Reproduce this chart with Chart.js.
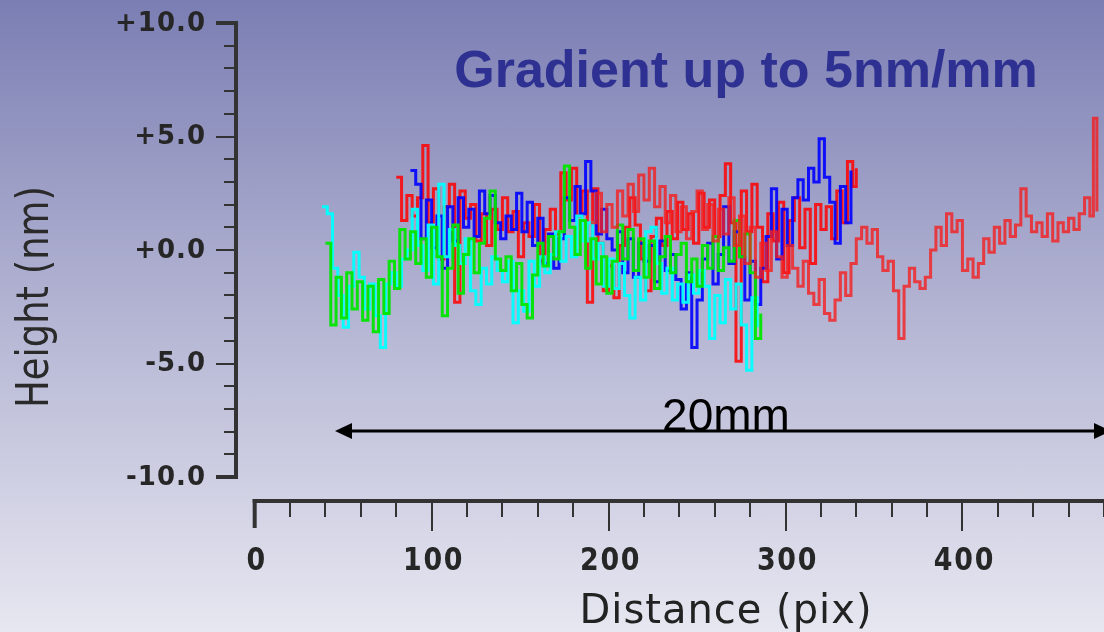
<!DOCTYPE html>
<html>
<head>
<meta charset="utf-8">
<script src="https://cdn.jsdelivr.net/npm/chart.js@4/dist/chart.umd.min.js"></script>
<style>
html,body{margin:0;padding:0;overflow:hidden;}
body{width:1104px;height:632px;background:linear-gradient(to bottom,#7b7eb3 0%,#b2b3d2 48%,#e7e7f1 100%);}
canvas{display:block;}
</style>
</head>
<body>
<canvas id="c" width="1104" height="632"></canvas>
<script>
// ---- data ----
const titleText = "Gradient up to 5nm/mm";
const xAxisTitle = "Distance (pix)";
const yAxisTitle = "Height (nm)";
const spanLabel = "20mm";
const yTickValues = [10, 5, 0, -5, -10];
const yTickLabels = ["+10.0", "+5.0", "+0.0", "-5.0", "-10.0"];
const xTickValues = [0, 100, 200, 300, 400];
const xTickLabels = ["0", "100", "200", "300", "400"];

const redAX = [80,83,86,89,92,95,98,101,104,107,110,113,116,119,122,125,128,131,134,137,140,143,146,149,152,155,158,161,164,167,170,173,176,179,182,185,188,191,194,197,200,203,206,209,212,215,218,221,224,227,230,233,236,239,242,245,248,251,254,257,260,263,266,269,272,275,278,281,284,287,290,293,296,299,302,305,308,311,314,317,320,323,326,329,332,335,338,340];
const redAY = [3.2,1.3,2.4,1.5,2.3,4.6,1.2,2.7,-0.4,1.9,
2.9,-2.3,2.6,1.4,2.0,0.4,1.6,0.2,1.8,0.9,
2.3,0.8,1.7,-0.3,1.2,0.6,2.0,-0.5,0.9,1.8,
0.7,3.4,2.2,3.6,1.5,2.6,-2.3,2.7,0.3,-1.8,
-0.7,-2.1,0.2,1.0,2.3,1.1,-0.4,-1.8,0.6,1.4,
0.2,1.7,0.5,2.1,0.9,1.6,0.3,2.5,1.0,2.2,
0.6,2.4,3.8,1.2,-4.9,2.6,0.8,2.9,1.0,-1.4,
1.6,0.4,2.1,-1.0,1.3,2.3,0.1,1.8,-0.6,2.0,
0.9,1.9,0.5,2.6,1.2,3.9,2.8,3.6];

const redBX = [190,193,196,199,202,205,208,211,214,217,220,223,226,229,232,235,238,241,244,247,250,253,256,259,262,265,268,271,274,277,280,283,286,289,292,295,298,301,304,307,310,313,316,319,322,325,328,331,334,337,340,343,346,349,352,355,358,361,364,367,370,373,376,379,382,385,388,391,394,397,400,403,406,409,412,415,418,421,424,427,430,433,436,439,442,445,448,451,454,457,460,463,466,469,472,474,476];
const redBY = [1.2,2.5,0.8,2.0,1.0,2.6,1.5,2.9,1.7,3.3,
2.2,3.6,1.9,2.8,1.2,2.4,0.8,1.9,0.5,1.7,
2.6,0.9,2.0,0.4,1.8,0.7,2.3,0.2,1.5,-0.6,
1.0,-1.2,0.3,-0.9,0.8,-0.3,-1.2,0.2,-0.8,-1.6,
-0.5,-1.9,-2.4,-1.3,-2.8,-3.1,-2.2,-1.0,-2.0,-0.6,
0.5,1.0,0.3,0.9,-0.3,-0.9,-0.5,-1.8,-3.9,-1.6,
-0.8,-1.4,-1.7,-1.2,0.0,1.0,0.2,1.6,0.8,1.3,
-0.9,-0.4,-1.2,-0.6,0.5,-0.1,1.0,0.3,1.3,0.6,
1.1,2.7,1.5,0.8,1.2,0.6,1.6,0.4,1.2,0.8,
1.4,0.9,1.6,2.3,1.5,5.8,1.7];

const blueX = [88,91,94,97,100,103,106,109,112,115,118,121,124,127,130,133,136,139,142,145,148,151,154,157,160,163,166,169,172,175,178,181,184,187,190,193,196,199,202,205,208,211,214,217,220,223,226,229,232,235,238,241,244,247,250,253,256,259,262,265,268,271,274,277,280,283,286,289,292,295,298,301,304,307,310,313,316,319,322,325,328,331,334,337];
const blueY = [3.5,2.9,0.5,2.2,0.1,1.5,-0.8,1.9,0.4,2.3,
1.0,1.8,0.6,2.6,1.6,2.4,1.2,0.5,1.5,0.9,
2.5,0.8,2.1,0.2,1.4,-0.6,0.7,-0.8,0.5,2.3,
1.3,2.8,1.6,3.9,2.6,0.7,1.8,0.5,0.0,0.8,
-1.0,0.5,-1.2,0.3,-0.5,0.2,-1.4,0.4,-0.9,-0.2,
-1.3,-2.6,-1.0,-4.3,-2.2,-0.4,0.3,-1.5,-0.2,1.9,
-0.6,0.8,-0.3,-2.2,-0.5,-2.4,-0.8,0.6,2.7,-0.4,
1.8,0.2,2.3,3.1,2.2,3.6,3.0,4.9,3.2,2.1,
0.3,2.8,1.2,3.5];

const greenX = [40,43,46,49,52,55,58,61,64,67,70,73,76,79,82,85,88,91,94,97,100,103,106,109,112,115,118,121,124,127,130,133,136,139,142,145,148,151,154,157,160,163,166,169,172,175,178,181,184,187,190,193,196,199,202,205,208,211,214,217,220,223,226,229,232,235,238,241,244,247,250,253,256,259,262,265,268,271,274,277,280,283,286];
const greenY = [0.3,-3.3,-1.2,-3.0,-1.0,-2.6,-1.4,-3.1,-1.6,-3.6,
-1.3,-2.8,-0.5,-1.7,0.9,-0.4,0.8,-0.6,0.5,-1.2,
1.0,-0.3,-2.9,-0.8,1.1,-1.9,-0.2,0.5,-1.0,0.3,
1.4,2.6,-0.4,-0.9,-0.3,-1.8,-0.6,-2.4,-3.0,-1.1,
0.3,-0.7,0.6,-0.4,0.8,3.7,1.0,-0.2,1.3,-0.8,
0.5,-1.5,-0.3,-1.9,-0.5,1.1,-0.4,0.9,-0.9,0.5,
-1.2,0.4,-1.7,-0.3,0.6,-1.0,-0.2,0.3,-1.4,-0.4,
-1.6,0.2,-0.8,0.6,-0.9,0.1,-0.5,1.3,-0.3,0.7,
-1.0,-3.9,-2.8];

const cyanX = [38,41,44,47,50,53,56,59,62,65,68,71,74,77,80,83,86,89,92,95,98,101,104,107,110,113,116,119,122,125,128,131,134,137,140,143,146,149,152,155,158,161,164,167,170,173,176,179,182,185,188,191,194,197,200,203,206,209,212,215,218,221,224,227,230,233,236,239,242,245,248,251,254,257,260,263,266,269,272,275,278,281,284];
const cyanY = [1.9,1.6,-0.8,-2.0,-3.4,-1.6,-0.1,-1.2,-2.6,-1.5,
-2.9,-4.3,-1.5,-1.0,-1.6,-0.4,0.0,1.8,0.2,-0.9,
1.1,-1.5,2.9,-0.3,0.9,0.2,-0.6,0.5,-1.8,-2.4,
-0.8,-1.5,-0.3,-0.9,-1.4,-0.5,-3.2,-1.8,-2.7,-0.5,
-1.6,-0.3,-1.0,-0.2,0.8,-0.5,0.6,-0.3,1.5,0.4,
1.2,-0.4,0.3,-1.6,-0.4,-1.7,-0.6,-2.0,-3.0,-1.2,
-2.2,0.8,1.0,-0.6,-1.9,-0.8,-2.2,-1.5,-2.3,-1.1,
-1.9,-0.9,-1.6,-3.9,-2.0,-3.2,-1.3,-2.6,-1.5,-3.3,
-5.3,-2.1,-3.4];

function pairs(xs, ys){ return xs.map((x,i)=>({x:x, y:ys[i]})); }

const AXIS = "#333333";

const axesPlugin = {
  id: 'customAxes',
  afterDraw(chart){
    const ctx = chart.ctx;
    const xs = chart.scales.x, ys = chart.scales.y;
    ctx.save();
    // ---- Y axis ----
    const ax = chart.chartArea.left - 1;
    ctx.strokeStyle = AXIS;
    ctx.lineWidth = 4;
    ctx.beginPath();
    ctx.moveTo(ax, ys.getPixelForValue(10) - 2);
    ctx.lineTo(ax, ys.getPixelForValue(-10) + 2);
    ctx.stroke();
    for (let v = -10; v <= 10; v++) {
      const py = Math.round(ys.getPixelForValue(v));
      const major = (v % 5 === 0);
      ctx.lineWidth = (Math.abs(v) === 10) ? 4 : 2;
      ctx.beginPath();
      ctx.moveTo(major ? ax - 20 : ax - 12, py);
      ctx.lineTo(ax, py);
      ctx.stroke();
    }
    ctx.fillStyle = "#262626";
    ctx.font = "bold 26px 'DejaVu Sans'";
    ctx.letterSpacing = "1px";
    ctx.textAlign = "right";
    ctx.textBaseline = "middle";
    yTickValues.forEach((v,i)=>{
      ctx.fillText(yTickLabels[i], 206, ys.getPixelForValue(v) + 1);
    });
    // ---- X axis ----
    const axY = 501;
    const x0 = xs.getPixelForValue(0);
    ctx.lineWidth = 4;
    ctx.beginPath();
    ctx.moveTo(x0 - 2, axY);
    ctx.lineTo(chart.width, axY);
    ctx.stroke();
    ctx.beginPath();
    ctx.moveTo(x0, axY - 2);
    ctx.lineTo(x0, axY + 27);
    ctx.stroke();
    ctx.lineWidth = 2;
    for (let v = 20; v <= 480; v += 20) {
      const px = Math.round(xs.getPixelForValue(v));
      const major = (v % 100 === 0);
      ctx.beginPath();
      ctx.moveTo(px, axY);
      ctx.lineTo(px, major ? axY + 30 : axY + 16);
      ctx.stroke();
    }
    ctx.font = "bold 32px 'DejaVu Sans'";
    ctx.letterSpacing = "2px";
    ctx.textAlign = "center";
    xTickValues.forEach((v,i)=>{
      ctx.save();
      ctx.translate(xs.getPixelForValue(v) + 2, 562);
      ctx.scale(0.84, 1);
      ctx.fillText(xTickLabels[i], 0, 0);
      ctx.restore();
    });
    // axis titles
    ctx.letterSpacing = "1px";
    ctx.font = "40px 'DejaVu Sans'";
    ctx.textBaseline = "alphabetic";
    ctx.fillStyle = "#222";
    ctx.fillText(xAxisTitle, 726, 623);
    ctx.save();
    ctx.translate(48, 297);
    ctx.rotate(-Math.PI/2);
    ctx.scale(0.82, 1);
    ctx.font = "45px 'DejaVu Sans'";
    ctx.letterSpacing = "0px";
    ctx.fillStyle = "#2a2a2a";
    ctx.fillText(yAxisTitle, 0, 0);
    ctx.restore();
    // ---- title ----
    ctx.letterSpacing = "0px";
    ctx.font = "bold 52px 'Liberation Sans', Arial, sans-serif";
    ctx.fillStyle = "#2e3192";
    ctx.textAlign = "center";
    ctx.fillText(titleText, 746, 87);
    // ---- 20mm arrow ----
    ctx.strokeStyle = "#000";
    ctx.fillStyle = "#000";
    ctx.lineWidth = 3;
    const ay = 431, lx = 335, rx = 1111;
    ctx.beginPath();
    ctx.moveTo(lx + 4, ay);
    ctx.lineTo(rx - 4, ay);
    ctx.stroke();
    ctx.beginPath();
    ctx.moveTo(lx, ay); ctx.lineTo(lx + 17, ay - 8); ctx.lineTo(lx + 17, ay + 8); ctx.closePath(); ctx.fill();
    ctx.beginPath();
    ctx.moveTo(rx, ay); ctx.lineTo(rx - 17, ay - 8); ctx.lineTo(rx - 17, ay + 8); ctx.closePath(); ctx.fill();
    ctx.font = "46px 'Liberation Sans', Arial, sans-serif";
    ctx.textAlign = "center";
    ctx.fillText(spanLabel, 726, 431);
    ctx.restore();
  }
};

const common = { showLine: true, pointRadius: 0, borderWidth: 3, stepped: true, fill: false, tension: 0 };

new Chart(document.getElementById('c'), {
  type: 'scatter',
  data: {
    datasets: [
      Object.assign({ label: 'red B', data: pairs(redBX, redBY), borderColor: 'rgba(245,30,30,0.8)' }, common),
      Object.assign({ label: 'green', data: pairs(greenX, greenY), borderColor: 'rgba(0,230,0,0.95)' }, common),
      Object.assign({ label: 'cyan', data: pairs(cyanX, cyanY), borderColor: 'rgba(0,255,255,0.95)' }, common),
      Object.assign({ label: 'blue', data: pairs(blueX, blueY), borderColor: 'rgba(0,0,255,0.9)' }, common),
      Object.assign({ label: 'red A', data: pairs(redAX, redAY), borderColor: 'rgba(255,0,0,0.85)' }, common)
    ]
  },
  options: {
    responsive: false,
    animation: false,
    devicePixelRatio: 1,
    layout: { padding: { left: 237, right: 0, top: 23, bottom: 155 } },
    plugins: { legend: { display: false }, tooltip: { enabled: false }, title: { display: false } },
    scales: {
      x: { type: 'linear', min: -10, max: 480, display: false },
      y: { type: 'linear', min: -10, max: 10, display: false }
    }
  },
  plugins: [axesPlugin]
});
</script>
</body>
</html>
